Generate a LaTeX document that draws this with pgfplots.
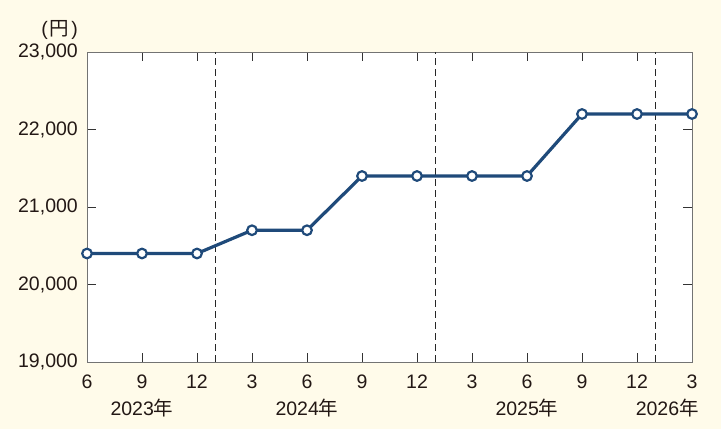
\documentclass[border=0pt]{standalone}
\usepackage{pgfplots}
\pgfplotsset{compat=1.18}
\usepackage{fontspec}
\setmainfont{Liberation Sans}
\newfontfamily\jp{Noto Sans CJK JP}
\definecolor{bg}{HTML}{FFFBEA}
\definecolor{serie}{HTML}{1F4A7A}
\definecolor{txt}{HTML}{231815}
\begin{document}
\begin{tikzpicture}
\fill[bg] (0,0) rectangle (721bp,429bp);
\useasboundingbox (0,0) rectangle (721bp,429bp);
\begin{axis}[
  at={(87bp,67bp)}, anchor=south west,
  scale only axis, width=605bp, height=310bp,
  xmin=0, xmax=11, ymin=19000, ymax=23000,
  clip=false, scaled y ticks=false,
  xtick={0,1,2,3,4,5,6,7,8,9,10,11},
  xticklabels={6,9,12,3,6,9,12,3,6,9,12,3},
  ytick={19000,20000,21000,22000,23000},
  yticklabels={{19,000},{20,000},{21,000},{22,000},{23,000}},
  tick align=inside, major tick length=9bp,
  axis background/.style={fill=white},
  axis line style={draw=black!55, line width=0.9pt},
  tick style={draw=black!80, line width=0.9pt},
  font=\fontsize{19.5bp}{21bp}\selectfont\color{txt},
  xticklabel style={anchor=base, inner sep=0pt, yshift=-26bp},
  yticklabel style={anchor=east, inner sep=0pt, xshift=-9bp},
]
\addplot[draw=black!85, line width=0.9pt, dash pattern=on 7bp off 4bp] coordinates {(2.333,19000) (2.333,23000)};
\addplot[draw=black!85, line width=0.9pt, dash pattern=on 7bp off 4bp] coordinates {(6.333,19000) (6.333,23000)};
\addplot[draw=black!85, line width=0.9pt, dash pattern=on 7bp off 4bp] coordinates {(10.333,19000) (10.333,23000)};
\addplot[draw=serie, line width=3.2bp, mark=*, mark size=4.8bp,
  mark options={fill=white, draw=serie, line width=2.2bp}] coordinates {
  (0,20400) (1,20400) (2,20400) (3,20700) (4,20700) (5,21400)
  (6,21400) (7,21400) (8,21400) (9,22200) (10,22200) (11,22200)};
\node[anchor=base, inner sep=0pt, yshift=-53bp] at (axis cs:1,19000) {2023{\jp 年}};
\node[anchor=base, inner sep=0pt, yshift=-53bp] at (axis cs:4,19000) {2024{\jp 年}};
\node[anchor=base, inner sep=0pt, yshift=-53bp] at (axis cs:8,19000) {2025{\jp 年}};
\node[anchor=base, inner sep=0pt, yshift=-53bp] at (axis cs:10.55,19000) {2026{\jp 年}};
\node[anchor=base east, inner sep=0pt, xshift=-9bp, yshift=17bp] at (rel axis cs:0,1) {(\hspace{2bp}{\jp 円}\hspace{2bp})};
\end{axis}
\end{tikzpicture}
\end{document}
